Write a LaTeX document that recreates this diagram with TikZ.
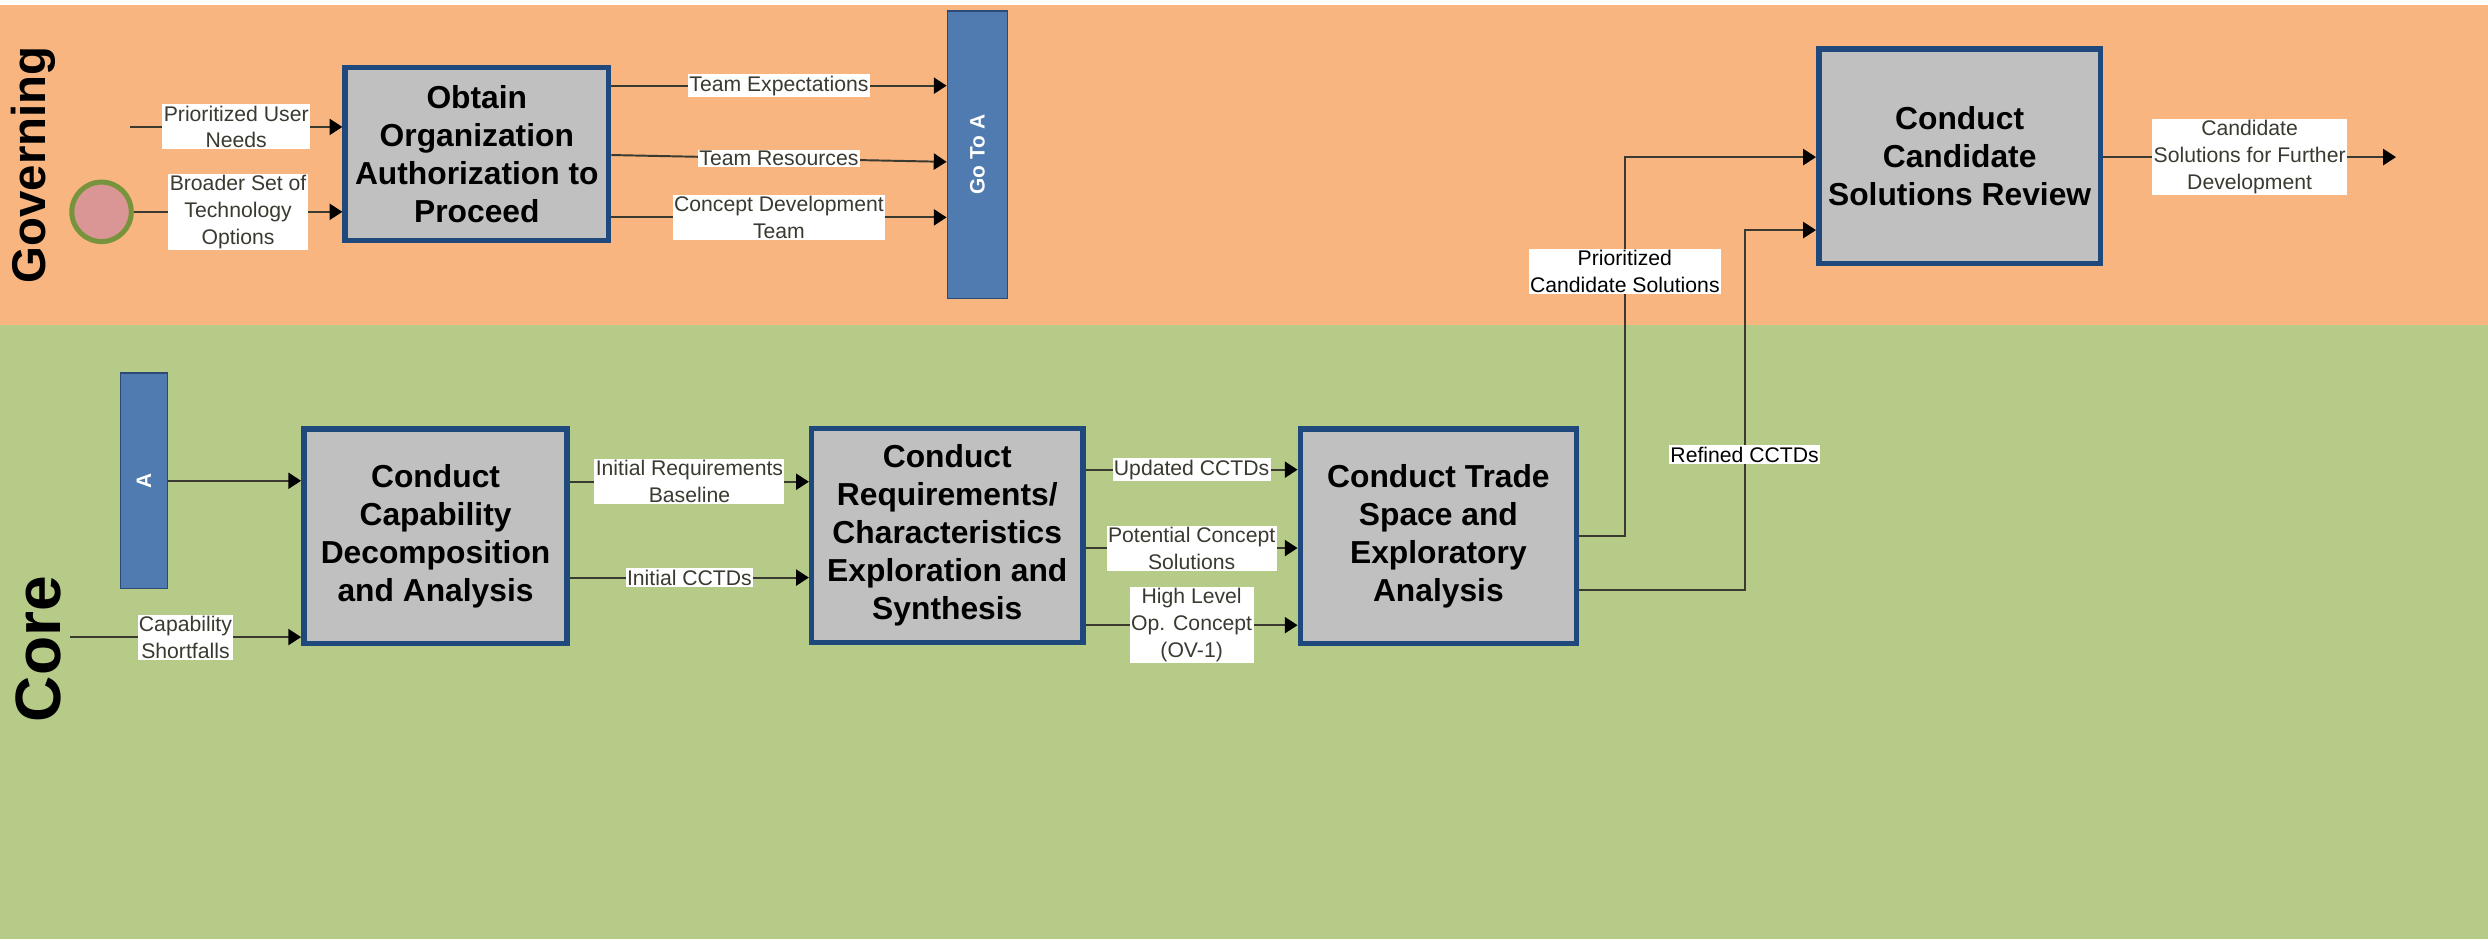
\documentclass[tikz,border=0pt]{standalone}
\usepackage{fontspec}
\setmainfont{Liberation Sans}
\usepackage{tikz}
\usetikzlibrary{arrows.meta,positioning}
\definecolor{govorange}{HTML}{F8B57F}
\definecolor{coregreen}{HTML}{B7CB89}
\definecolor{boxgray}{HTML}{C0C0C0}
\definecolor{boxblue}{HTML}{1F497D}
\definecolor{barblue}{HTML}{4F7BB0}
\definecolor{barline}{HTML}{2C4A75}
\definecolor{startred}{HTML}{D99694}
\definecolor{startgreen}{HTML}{77933C}
\definecolor{flowline}{HTML}{3A3A30}

\begin{document}
\begin{tikzpicture}[
  x=0.02cm, y=-0.02cm,
  every node/.style={font=\fontsize{7.6}{9.6}\selectfont},
  proc/.style={draw=boxblue, line width=2pt, fill=boxgray, align=center,
               font=\fontsize{11.4}{13.6}\selectfont\bfseries},
  bar/.style={draw=barline, line width=0.5pt, fill=barblue, text=white,
              font=\fontsize{7.5}{9}\selectfont\bfseries},
  lane/.style={rotate=90, font=\bfseries},
  start/.style={circle, draw=startgreen, line width=1.8pt, fill=startred, minimum size=0.75cm},
  lbl/.style={fill=white, inner sep=0.5pt, align=center},
  flow/.style={-{Triangle[length=4.6pt,width=5.8pt,color=black]}, line width=0.7pt, flowline}
]
\useasboundingbox (0,0) rectangle (1568,592);
\fill[govorange] (0,3) rectangle (1568,205);
\fill[coregreen] (0,205) rectangle (1568,592);

% swimlanes
\node[lane, font=\fontsize{17}{20}\selectfont\bfseries] (gov) at (21,104) {Governing};
\node[lane, font=\fontsize{23}{26}\selectfont\bfseries] (core) at (24,409) {Core};

% governing lane
\node[start] (start) at (64,133.5) {};
\coordinate (userneeds) at (82,80);
\node[proc, minimum width=3.32cm, minimum height=2.18cm] (auth) at (300.5,97)
  {Obtain\\Organization\\Authorization to\\Proceed};
\node[bar, minimum width=0.76cm, minimum height=3.62cm] (goto) at (616,97.5) {\rotatebox{90}{Go To A}};
\node[proc, minimum width=3.44cm, minimum height=2.7cm] (review) at (1235,98.5)
  {Conduct\\Candidate\\Solutions Review};
\coordinate (further) at (1510,99);

% core lane
\node[bar, minimum width=0.59cm, minimum height=2.72cm] (abar) at (90.7,303) {\rotatebox{90}{A}};
\coordinate (shortfall) at (44,401.5);
\node[proc, minimum width=3.32cm, minimum height=2.7cm] (cap) at (274.5,338)
  {Conduct\\Capability\\Decomposition\\and Analysis};
\node[proc, minimum width=3.42cm, minimum height=2.7cm] (req) at (597,337.5)
  {Conduct\\Requirements/\\Characteristics\\Exploration and\\Synthesis};
\node[proc, minimum width=3.48cm, minimum height=2.7cm] (trade) at (906.5,338)
  {Conduct Trade\\Space and\\Exploratory\\Analysis};

% flows
\draw[flow] (userneeds) -- node[lbl] {Prioritized User\\Needs} (auth.west |- userneeds);
\draw[flow] (start) -- node[lbl] {Broader Set of\\Technology\\Options} (auth.west |- start);
\draw[flow] (auth.east |- 0,54) -- node[lbl] {Team Expectations} (goto.west |- 0,54);
\draw[flow] (auth.east |- 0,97.7) -- node[lbl] {Team Resources} (goto.west |- 0,102);
\draw[flow] (auth.east |- 0,137) -- node[lbl] {Concept Development\\Team} (goto.west |- 0,137);

\draw[flow] (abar.east) -- (cap.west |- abar.east);
\draw[flow] (shortfall) -- node[lbl] {Capability\\Shortfalls} (cap.west |- shortfall);
\draw[flow] (cap.east |- 0,303.6) -- node[lbl] {Initial Requirements\\Baseline} (req.west |- 0,303.6);
\draw[flow] (cap.east |- 0,364) -- node[lbl] {Initial CCTDs} (req.west |- 0,364);
\draw[flow] (req.east |- 0,296) -- node[lbl] {Updated CCTDs} (trade.west |- 0,296);
\draw[flow] (req.east |- 0,345.4) -- node[lbl] {Potential Concept\\Solutions} (trade.west |- 0,345.4);
\draw[flow] (req.east |- 0,394) -- node[lbl] {High Level\\Op. Concept\\(OV-1)} (trade.west |- 0,394);

\draw[flow] (trade.east |- 0,338) -| (1024,99) -- (review.west |- 0,99);
\draw[flow] (trade.east |- 0,372) -| (1100,145) -- (review.west |- 0,145);
\node[lbl] (prioritized) at (1024,171) {Prioritized\\Candidate Solutions};
\node[lbl] (refined) at (1099.5,286.5) {Refined CCTDs};
\draw[flow] (review.east |- further) -- node[lbl] {Candidate\\Solutions for Further\\Development} (further);
\end{tikzpicture}
\end{document}
